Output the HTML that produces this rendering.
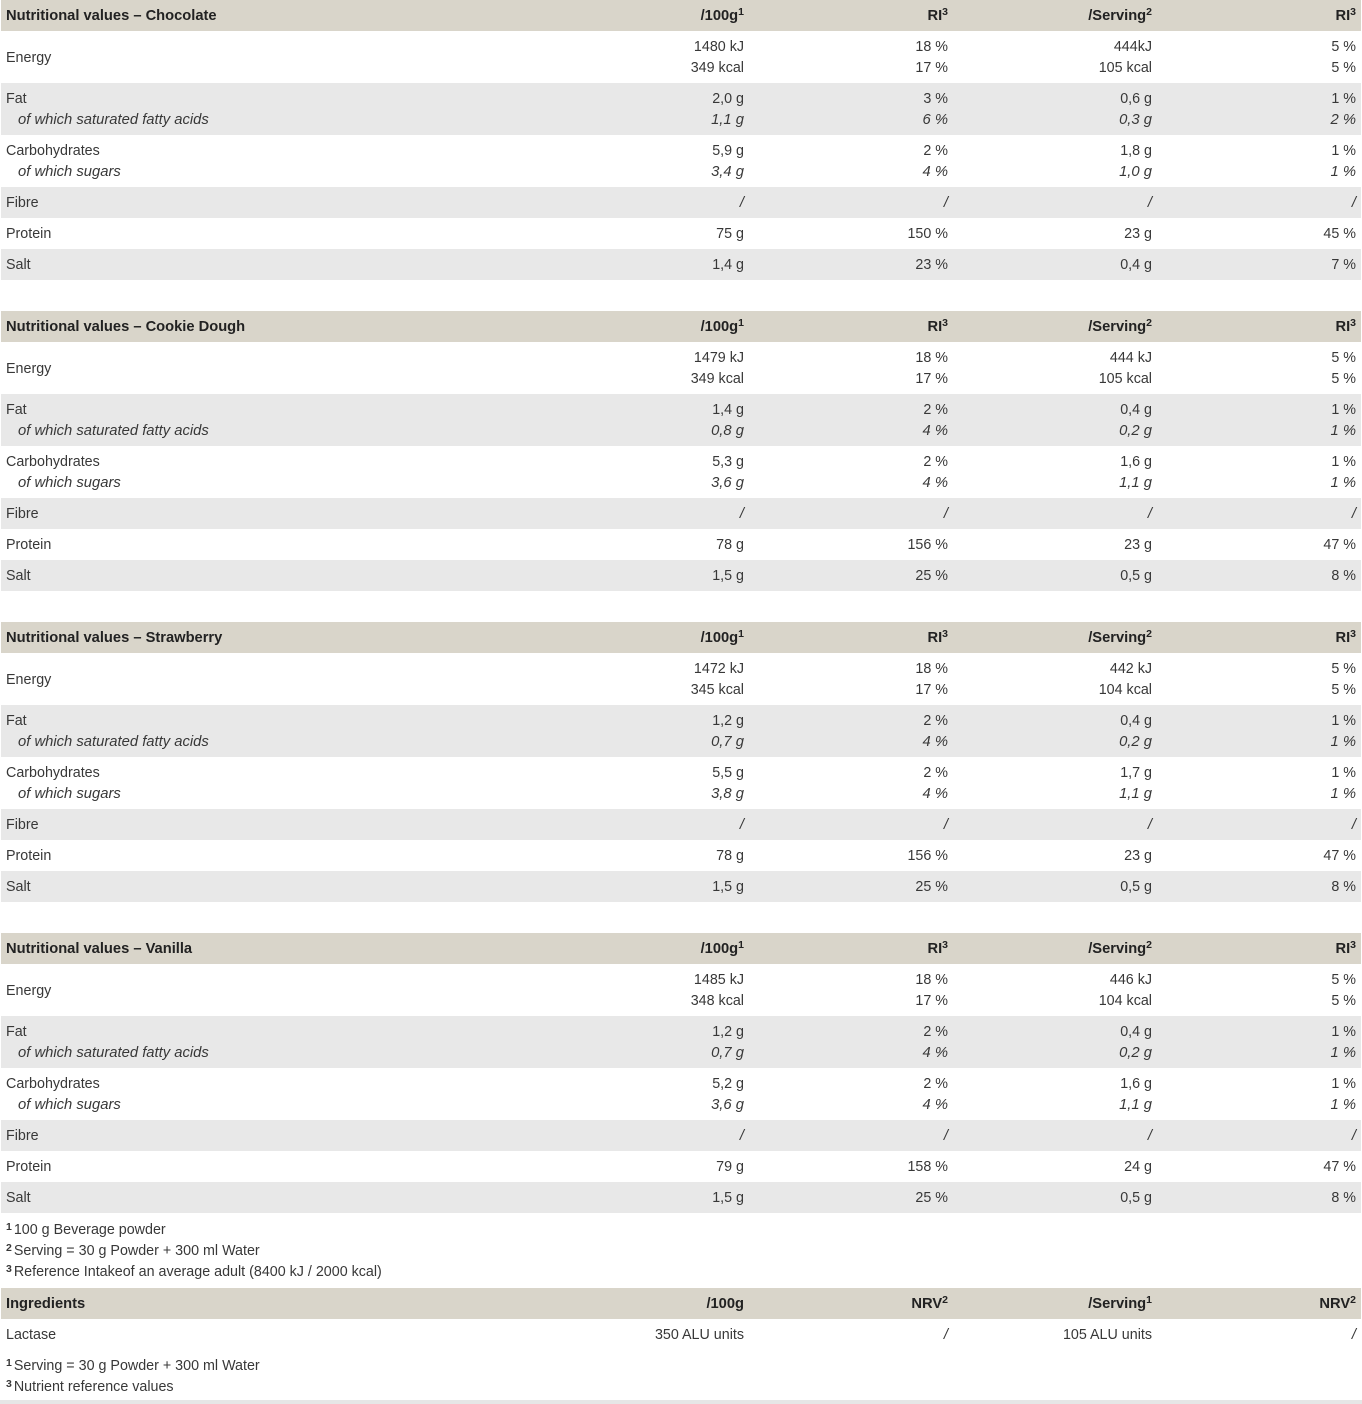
<!DOCTYPE html>
<html><head><meta charset="utf-8">
<style>
*{margin:0;padding:0;box-sizing:border-box}
html,body{width:1362px;height:1404px;background:#fff;overflow:hidden}
body{position:relative;font-family:"Liberation Sans",Arial,sans-serif;font-size:14.3px;color:#383838}
i{font-size:14.8px}
.t{position:absolute;left:0;width:1362px;height:280px}
.r{position:absolute;left:1px;width:1360px}
.h{background:#d9d5ca;height:31px;font-weight:bold;color:#222;font-size:14.7px}
.g{background:#e8e8e8}
.l{position:absolute;left:5px;top:6px;line-height:21px;white-space:nowrap}
.l.m{top:17px}
.s{display:inline-block;margin-left:12px}
.c{position:absolute;top:6px;width:200px;text-align:right;line-height:21px;white-space:nowrap}
.a{left:543px}.b{left:747px}.cc{left:951px}.d{left:1155px}
.sp{position:relative;top:-5px;font-size:10.5px;font-weight:bold;line-height:0}
.fn{position:absolute;left:6px;line-height:21px;white-space:nowrap;font-size:14.3px}
.fn .sp{top:-4px;margin-right:2px}
</style></head><body>

<!-- Chocolate -->
<div class="t" style="top:0">
<div class="r h" style="top:0"><div class="l">Nutritional values – Chocolate</div><div class="c a">/100g<span class="sp">1</span></div><div class="c b">RI<span class="sp">3</span></div><div class="c cc">/Serving<span class="sp">2</span></div><div class="c d">RI<span class="sp">3</span></div></div>
<div class="r" style="top:31px;height:52px"><div class="l m">Energy</div><div class="c a">1480 kJ<br>349 kcal</div><div class="c b">18 %<br>17 %</div><div class="c cc">444kJ<br>105 kcal</div><div class="c d">5 %<br>5 %</div></div>
<div class="r g" style="top:83px;height:52px"><div class="l">Fat<br><i class="s">of which saturated fatty acids</i></div><div class="c a">2,0 g<br><i>1,1 g</i></div><div class="c b">3 %<br><i>6 %</i></div><div class="c cc">0,6 g<br><i>0,3 g</i></div><div class="c d">1 %<br><i>2 %</i></div></div>
<div class="r" style="top:135px;height:52px"><div class="l">Carbohydrates<br><i class="s">of which sugars</i></div><div class="c a">5,9 g<br><i>3,4 g</i></div><div class="c b">2 %<br><i>4 %</i></div><div class="c cc">1,8 g<br><i>1,0 g</i></div><div class="c d">1 %<br><i>1 %</i></div></div>
<div class="r g" style="top:187px;height:31px"><div class="l">Fibre</div><div class="c a"><i>/</i></div><div class="c b"><i>/</i></div><div class="c cc"><i>/</i></div><div class="c d"><i>/</i></div></div>
<div class="r" style="top:218px;height:31px"><div class="l">Protein</div><div class="c a">75 g</div><div class="c b">150 %</div><div class="c cc">23 g</div><div class="c d">45 %</div></div>
<div class="r g" style="top:249px;height:31px"><div class="l">Salt</div><div class="c a">1,4 g</div><div class="c b">23 %</div><div class="c cc">0,4 g</div><div class="c d">7 %</div></div>
</div>

<!-- Cookie Dough -->
<div class="t" style="top:311px">
<div class="r h" style="top:0"><div class="l">Nutritional values – Cookie Dough</div><div class="c a">/100g<span class="sp">1</span></div><div class="c b">RI<span class="sp">3</span></div><div class="c cc">/Serving<span class="sp">2</span></div><div class="c d">RI<span class="sp">3</span></div></div>
<div class="r" style="top:31px;height:52px"><div class="l m">Energy</div><div class="c a">1479 kJ<br>349 kcal</div><div class="c b">18 %<br>17 %</div><div class="c cc">444 kJ<br>105 kcal</div><div class="c d">5 %<br>5 %</div></div>
<div class="r g" style="top:83px;height:52px"><div class="l">Fat<br><i class="s">of which saturated fatty acids</i></div><div class="c a">1,4 g<br><i>0,8 g</i></div><div class="c b">2 %<br><i>4 %</i></div><div class="c cc">0,4 g<br><i>0,2 g</i></div><div class="c d">1 %<br><i>1 %</i></div></div>
<div class="r" style="top:135px;height:52px"><div class="l">Carbohydrates<br><i class="s">of which sugars</i></div><div class="c a">5,3 g<br><i>3,6 g</i></div><div class="c b">2 %<br><i>4 %</i></div><div class="c cc">1,6 g<br><i>1,1 g</i></div><div class="c d">1 %<br><i>1 %</i></div></div>
<div class="r g" style="top:187px;height:31px"><div class="l">Fibre</div><div class="c a"><i>/</i></div><div class="c b"><i>/</i></div><div class="c cc"><i>/</i></div><div class="c d"><i>/</i></div></div>
<div class="r" style="top:218px;height:31px"><div class="l">Protein</div><div class="c a">78 g</div><div class="c b">156 %</div><div class="c cc">23 g</div><div class="c d">47 %</div></div>
<div class="r g" style="top:249px;height:31px"><div class="l">Salt</div><div class="c a">1,5 g</div><div class="c b">25 %</div><div class="c cc">0,5 g</div><div class="c d">8 %</div></div>
</div>

<!-- Strawberry -->
<div class="t" style="top:622px">
<div class="r h" style="top:0"><div class="l">Nutritional values – Strawberry</div><div class="c a">/100g<span class="sp">1</span></div><div class="c b">RI<span class="sp">3</span></div><div class="c cc">/Serving<span class="sp">2</span></div><div class="c d">RI<span class="sp">3</span></div></div>
<div class="r" style="top:31px;height:52px"><div class="l m">Energy</div><div class="c a">1472 kJ<br>345 kcal</div><div class="c b">18 %<br>17 %</div><div class="c cc">442 kJ<br>104 kcal</div><div class="c d">5 %<br>5 %</div></div>
<div class="r g" style="top:83px;height:52px"><div class="l">Fat<br><i class="s">of which saturated fatty acids</i></div><div class="c a">1,2 g<br><i>0,7 g</i></div><div class="c b">2 %<br><i>4 %</i></div><div class="c cc">0,4 g<br><i>0,2 g</i></div><div class="c d">1 %<br><i>1 %</i></div></div>
<div class="r" style="top:135px;height:52px"><div class="l">Carbohydrates<br><i class="s">of which sugars</i></div><div class="c a">5,5 g<br><i>3,8 g</i></div><div class="c b">2 %<br><i>4 %</i></div><div class="c cc">1,7 g<br><i>1,1 g</i></div><div class="c d">1 %<br><i>1 %</i></div></div>
<div class="r g" style="top:187px;height:31px"><div class="l">Fibre</div><div class="c a"><i>/</i></div><div class="c b"><i>/</i></div><div class="c cc"><i>/</i></div><div class="c d"><i>/</i></div></div>
<div class="r" style="top:218px;height:31px"><div class="l">Protein</div><div class="c a">78 g</div><div class="c b">156 %</div><div class="c cc">23 g</div><div class="c d">47 %</div></div>
<div class="r g" style="top:249px;height:31px"><div class="l">Salt</div><div class="c a">1,5 g</div><div class="c b">25 %</div><div class="c cc">0,5 g</div><div class="c d">8 %</div></div>
</div>

<!-- Vanilla -->
<div class="t" style="top:933px">
<div class="r h" style="top:0"><div class="l">Nutritional values – Vanilla</div><div class="c a">/100g<span class="sp">1</span></div><div class="c b">RI<span class="sp">3</span></div><div class="c cc">/Serving<span class="sp">2</span></div><div class="c d">RI<span class="sp">3</span></div></div>
<div class="r" style="top:31px;height:52px"><div class="l m">Energy</div><div class="c a">1485 kJ<br>348 kcal</div><div class="c b">18 %<br>17 %</div><div class="c cc">446 kJ<br>104 kcal</div><div class="c d">5 %<br>5 %</div></div>
<div class="r g" style="top:83px;height:52px"><div class="l">Fat<br><i class="s">of which saturated fatty acids</i></div><div class="c a">1,2 g<br><i>0,7 g</i></div><div class="c b">2 %<br><i>4 %</i></div><div class="c cc">0,4 g<br><i>0,2 g</i></div><div class="c d">1 %<br><i>1 %</i></div></div>
<div class="r" style="top:135px;height:52px"><div class="l">Carbohydrates<br><i class="s">of which sugars</i></div><div class="c a">5,2 g<br><i>3,6 g</i></div><div class="c b">2 %<br><i>4 %</i></div><div class="c cc">1,6 g<br><i>1,1 g</i></div><div class="c d">1 %<br><i>1 %</i></div></div>
<div class="r g" style="top:187px;height:31px"><div class="l">Fibre</div><div class="c a"><i>/</i></div><div class="c b"><i>/</i></div><div class="c cc"><i>/</i></div><div class="c d"><i>/</i></div></div>
<div class="r" style="top:218px;height:31px"><div class="l">Protein</div><div class="c a">79 g</div><div class="c b">158 %</div><div class="c cc">24 g</div><div class="c d">47 %</div></div>
<div class="r g" style="top:249px;height:31px"><div class="l">Salt</div><div class="c a">1,5 g</div><div class="c b">25 %</div><div class="c cc">0,5 g</div><div class="c d">8 %</div></div>
</div>

<div class="fn" style="top:1220px"><span class="sp">1</span>100 g Beverage powder</div>
<div class="fn" style="top:1241px"><span class="sp">2</span>Serving = 30 g Powder + 300 ml Water</div>
<div class="fn" style="top:1262px"><span class="sp">3</span>Reference Intakeof an average adult (8400 kJ / 2000 kcal)</div>

<div class="r h" style="top:1288px"><div class="l">Ingredients</div><div class="c a">/100g</div><div class="c b">NRV<span class="sp">2</span></div><div class="c cc">/Serving<span class="sp">1</span></div><div class="c d">NRV<span class="sp">2</span></div></div>
<div class="r" style="top:1319px;height:31px"><div class="l">Lactase</div><div class="c a">350 ALU units</div><div class="c b"><i>/</i></div><div class="c cc">105 ALU units</div><div class="c d"><i>/</i></div></div>

<div class="fn" style="top:1356px"><span class="sp">1</span>Serving = 30 g Powder + 300 ml Water</div>
<div class="fn" style="top:1377px"><span class="sp">3</span>Nutrient reference values</div>

<div style="position:absolute;left:0;top:1400px;width:1362px;height:4px;background:#e6e6e6"></div>
</body></html>
